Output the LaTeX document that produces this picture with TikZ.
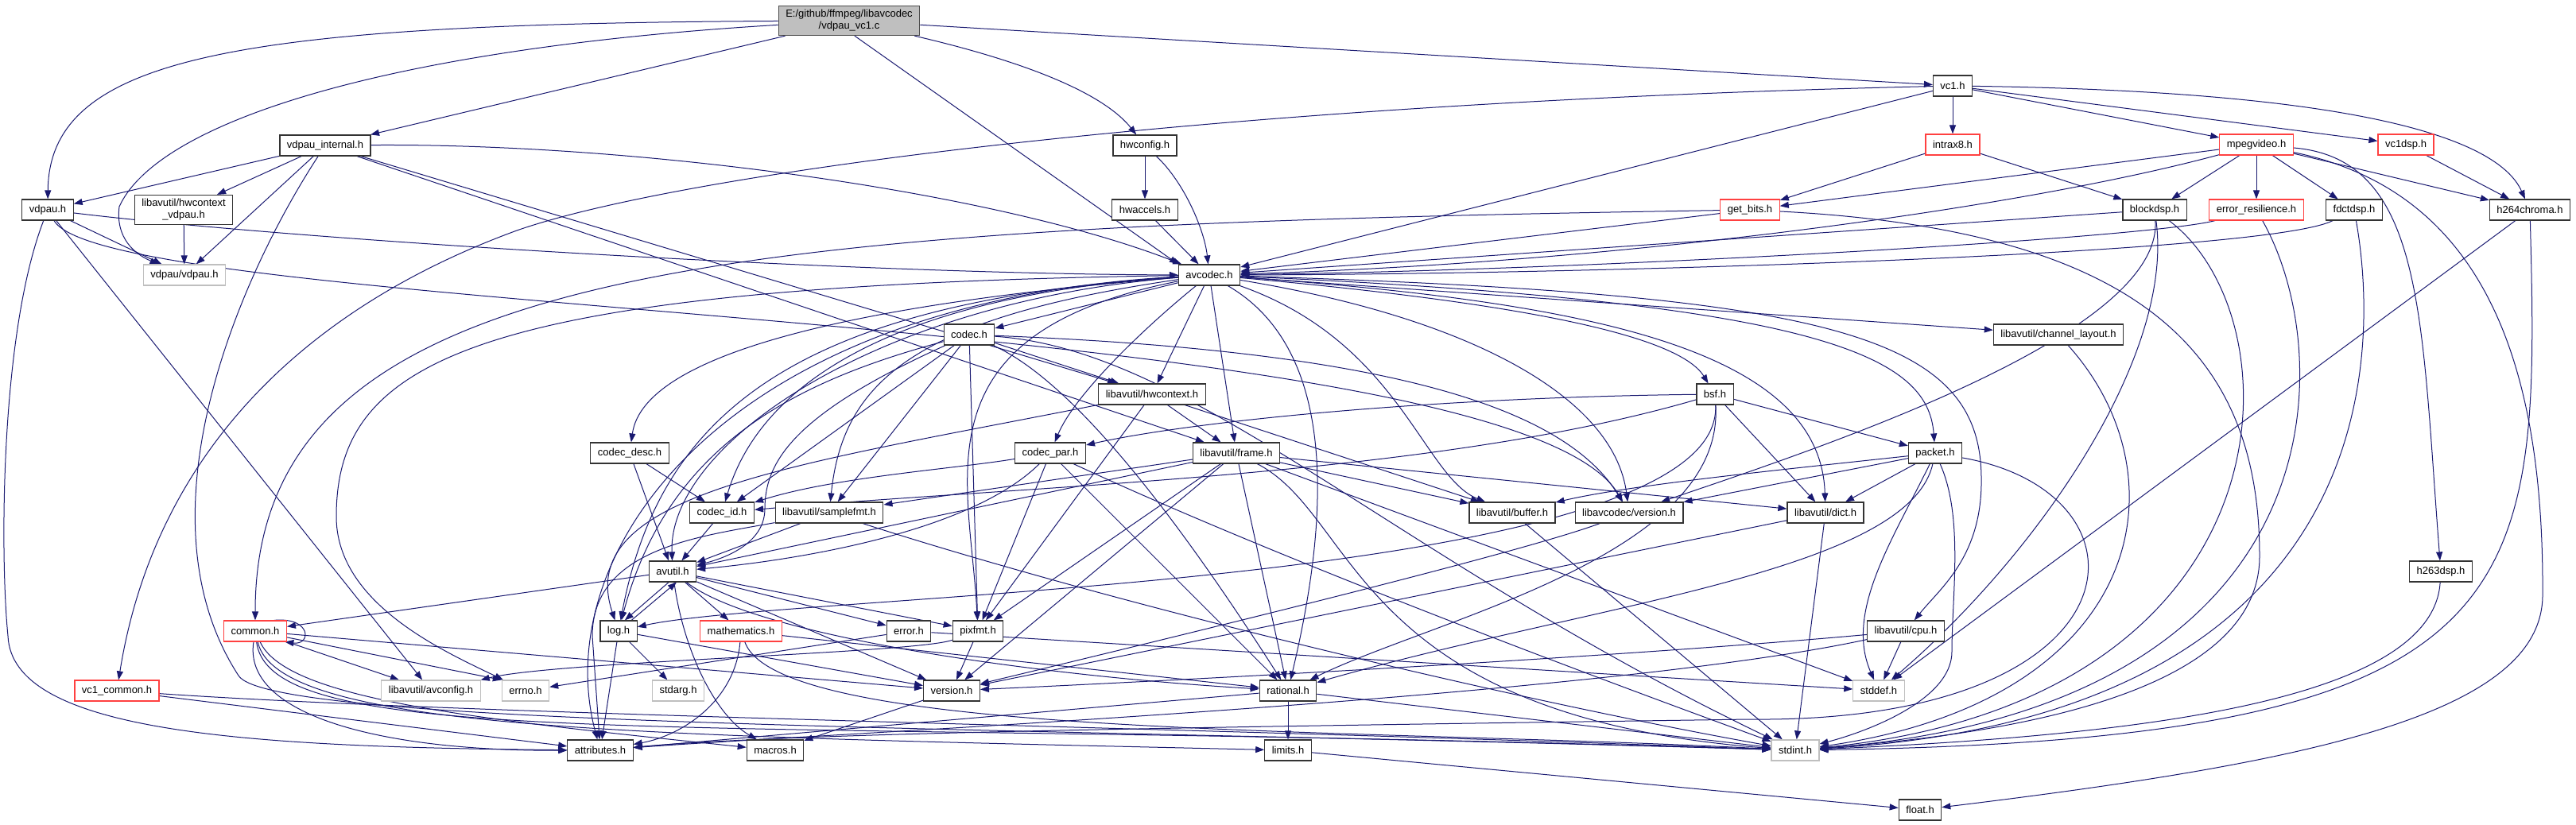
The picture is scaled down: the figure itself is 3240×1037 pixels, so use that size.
\documentclass[tikz,border=0pt]{standalone}
\usepackage{fontspec}
\setmainfont{Liberation Sans}
\usetikzlibrary{arrows.meta,backgrounds}
\definecolor{IncBlue}{RGB}{25,25,112}
\definecolor{TruncRed}{RGB}{255,64,64}
\definecolor{SysGray}{RGB}{191,191,191}
\definecolor{RootGray}{RGB}{191,191,191}
\tikzset{
  hdr/.style={draw=black!80,fill=white,line width=1.2pt,minimum height=26pt,inner xsep=9pt,inner ysep=3pt,font=\fontsize{13}{15}\selectfont},
  trunc/.style={hdr,draw=TruncRed},
  sys/.style={hdr,draw=SysGray},
  root/.style={hdr,fill=RootGray,draw=black!70,align=center,inner ysep=5pt},
  inc/.style={draw=IncBlue,line width=1pt,-{Triangle[length=11pt,width=8pt]}},
}

\begin{document}
\begin{tikzpicture}[x=1pt,y=-1pt]
\useasboundingbox (0,0) rectangle (3240,1037);
\node[root] (main) at (1068,26) {E:/github/ffmpeg/libavcodec\\/vdpau\_vc1.c};
\node[hdr] (vdpauint) at (409,183) {vdpau\_internal.h};
\node[hdr] (hwconfig) at (1440,183) {hwconfig.h};
\node[hdr] (vcone) at (2456,108) {vc1.h};
\node[trunc] (intrax) at (2456,182) {intrax8.h};
\node[trunc] (mpegvideo) at (2838,182) {mpegvideo.h};
\node[trunc] (vcdsp) at (3026,182) {vc1dsp.h};
\node[hdr] (vdpauh) at (60,264) {vdpau.h};
\node[hdr,align=center,inner ysep=5pt] (hwvdpau) at (231,264) {libavutil/hwcontext\\\_vdpau.h};
\node[hdr] (hwaccels) at (1440,264) {hwaccels.h};
\node[trunc] (getbits) at (2201,264) {get\_bits.h};
\node[hdr] (blockdsp) at (2710,264) {blockdsp.h};
\node[trunc] (errres) at (2838,264) {error\_resilience.h};
\node[hdr] (fdctdsp) at (2961,264) {fdctdsp.h};
\node[hdr] (hchroma) at (3182,264) {h264chroma.h};
\node[sys] (vdpauvdpau) at (232,346) {vdpau/vdpau.h};
\node[hdr] (avcodec) at (1521,346) {avcodec.h};
\node[hdr] (codec) at (1219,421) {codec.h};
\node[hdr] (chlayout) at (2589,421) {libavutil/channel\_layout.h};
\node[hdr] (hwcontext) at (1449,496) {libavutil/hwcontext.h};
\node[hdr] (bsf) at (2157,496) {bsf.h};
\node[hdr] (codecdesc) at (792,570) {codec\_desc.h};
\node[hdr] (codecpar) at (1321,570) {codec\_par.h};
\node[hdr] (frame) at (1555,570) {libavutil/frame.h};
\node[hdr] (packet) at (2434,570) {packet.h};
\node[hdr] (codecid) at (908,645) {codec\_id.h};
\node[hdr] (samplefmt) at (1043,645) {libavutil/samplefmt.h};
\node[hdr] (buffer) at (1902,645) {libavutil/buffer.h};
\node[hdr] (lcversion) at (2049,645) {libavcodec/version.h};
\node[hdr] (dict) at (2296,645) {libavutil/dict.h};
\node[hdr] (avutil) at (846,719) {avutil.h};
\node[hdr] (hdsp) at (3070,719) {h263dsp.h};
\node[trunc] (common) at (321,794) {common.h};
\node[hdr] (logh) at (778,794) {log.h};
\node[trunc] (mathh) at (932,794) {mathematics.h};
\node[hdr] (errorh) at (1143,794) {error.h};
\node[hdr] (pixfmt) at (1230,794) {pixfmt.h};
\node[hdr] (cpu) at (2397,794) {libavutil/cpu.h};
\node[trunc] (vcommon) at (147,869) {vc1\_common.h};
\node[sys] (avconfig) at (542,869) {libavutil/avconfig.h};
\node[sys] (errno) at (661,869) {errno.h};
\node[sys] (stdarg) at (853,869) {stdarg.h};
\node[hdr] (version) at (1197,869) {version.h};
\node[hdr] (rational) at (1620,869) {rational.h};
\node[sys] (stddef) at (2363,869) {stddef.h};
\node[hdr] (attributes) at (755,944) {attributes.h};
\node[hdr] (macros) at (975,944) {macros.h};
\node[hdr] (limits) at (1620,944) {limits.h};
\node[sys] (stdint) at (2258,944) {stdint.h};
\node[hdr] (floath) at (2415,1019) {float.h};

\begin{scope}[on background layer]
% source file
\draw[inc] (main) .. controls (300,30) and (62,70) .. (vdpauh);
\draw[inc] (main) .. controls (500,60) and (200,150) .. (150,260) .. controls (145,300) and (170,320) .. (vdpauvdpau);
\draw[inc] (main) -- (vdpauint);
\draw[inc] (main.290) -- (avcodec.north west);
\draw[inc] (main) .. controls (1300,80) and (1390,120) .. (hwconfig);
\draw[inc] (main) -- (vcone);
% vdpau headers
\draw[inc] (vdpauint) -- (vdpauh);
\draw[inc] (vdpauint) -- (hwvdpau);
\draw[inc] (vdpauint) -- (vdpauvdpau);
\draw[inc] (vdpauint) -- (hwcontext);
\draw[inc] (vdpauint) -- (frame);
\draw[inc] (vdpauint) .. controls (800,180) and (1250,240) .. (avcodec);
\draw[inc] (vdpauint) .. controls (300,350) and (170,650) .. (300,850) .. controls (340,915) and (1300,915) .. (stdint);
\draw[inc] (vdpauh) -- (vdpauvdpau);
\draw[inc] (vdpauh) .. controls (400,305) and (1100,345) .. (avcodec);
\draw[inc] (vdpauh) .. controls (140,400) and (1900,390) .. (lcversion);
\draw[inc] (vdpauh) -- (avconfig);
\draw[inc] (vdpauh) .. controls (0,420) and (0,700) .. (10,800) .. controls (15,920) and (300,940) .. (attributes);
\draw[inc] (hwvdpau) -- (vdpauvdpau);
% hwconfig.h
\draw[inc] (hwconfig) -- (hwaccels);
\draw[inc] (hwconfig) .. controls (1490,230) and (1515,290) .. (avcodec);
\draw[inc] (hwaccels) -- (avcodec);
% vc1.h
\draw[inc] (vcone) -- (avcodec);
\draw[inc] (vcone) .. controls (1500,130) and (850,220) .. (650,290) .. controls (350,400) and (190,600) .. (vcommon);
\draw[inc] (vcone) -- (intrax);
\draw[inc] (vcone) -- (mpegvideo);
\draw[inc] (vcone) -- (vcdsp);
\draw[inc] (vcone) .. controls (2950,115) and (3140,170) .. (hchroma);
\draw[inc] (intrax) -- (getbits);
\draw[inc] (intrax) -- (blockdsp);
\draw[inc] (mpegvideo) -- (getbits);
\draw[inc] (mpegvideo) .. controls (2550,260) and (2050,330) .. (avcodec);
\draw[inc] (mpegvideo) -- (blockdsp);
\draw[inc] (mpegvideo) -- (errres);
\draw[inc] (mpegvideo) -- (fdctdsp);
\draw[inc] (mpegvideo) -- (hchroma);
\draw[inc] (mpegvideo) .. controls (3050,200) and (3045,400) .. (hdsp);
\draw[inc] (mpegvideo) .. controls (3120,240) and (3200,450) .. (3198,750) .. controls (3196,900) and (2900,960) .. (floath);
\draw[inc] (vcdsp) -- (hchroma);
\draw[inc] (getbits) -- (avcodec);
\draw[inc] (getbits) .. controls (900,285) and (321,330) .. (common);
\draw[inc] (getbits) .. controls (2700,290) and (2842,450) .. (2842,700) .. controls (2842,880) and (2500,925) .. (stdint);
\draw[inc] (blockdsp) -- (avcodec);
\draw[inc] (blockdsp) .. controls (2720,420) and (2300,560) .. (lcversion);
\draw[inc] (blockdsp) .. controls (2735,450) and (2560,700) .. (stddef);
\draw[inc] (blockdsp) .. controls (2892,400) and (2892,880) .. (stdint);
\draw[inc] (errres) .. controls (2700,300) and (2000,340) .. (avcodec);
\draw[inc] (errres) .. controls (2943,450) and (2943,890) .. (stdint);
\draw[inc] (fdctdsp) .. controls (2850,320) and (2000,345) .. (avcodec);
\draw[inc] (fdctdsp) .. controls (2994,450) and (2994,900) .. (stdint);
\draw[inc] (hchroma) -- (stddef);
\draw[inc] (hchroma) .. controls (3195,750) and (3190,930) .. (stdint);
\draw[inc] (hdsp) .. controls (3060,880) and (2700,925) .. (stdint);
% avcodec.h
\draw[inc] (avcodec) .. controls (600,360) and (423,450) .. (423,650) .. controls (423,760) and (560,820) .. (errno);
\draw[inc] (avcodec) .. controls (1150,400) and (1060,480) .. (samplefmt);
\draw[inc] (avcodec) .. controls (900,380) and (690,700) .. (attributes);
\draw[inc] (avcodec) .. controls (1100,380) and (840,560) .. (avutil);
\draw[inc] (avcodec) .. controls (1760,430) and (1790,600) .. (buffer);
\draw[inc] (avcodec) .. controls (2300,370) and (2490,420) .. (2492,600) .. controls (2494,700) and (2440,740) .. (cpu);
\draw[inc] (avcodec) -- (chlayout);
\draw[inc] (avcodec) .. controls (2000,380) and (2290,440) .. (dict);
\draw[inc] (avcodec) -- (frame);
\draw[inc] (avcodec) -- (hwcontext);
\draw[inc] (avcodec) .. controls (1000,380) and (830,520) .. (logh);
\draw[inc] (avcodec) .. controls (1150,420) and (1220,600) .. (pixfmt);
\draw[inc] (avcodec) .. controls (1700,450) and (1660,700) .. (rational);
\draw[inc] (avcodec) .. controls (1900,380) and (2110,420) .. (bsf);
\draw[inc] (avcodec) -- (codec);
\draw[inc] (avcodec) .. controls (1100,380) and (810,440) .. (codecdesc);
\draw[inc] (avcodec) .. controls (1430,420) and (1350,500) .. (codecpar);
\draw[inc] (avcodec) .. controls (1150,370) and (960,470) .. (codecid);
\draw[inc] (avcodec) .. controls (2300,380) and (2425,450) .. (packet);
\draw[inc] (avcodec) .. controls (1850,400) and (2030,500) .. (lcversion);
% codec.h and friends
\draw[inc] (codec) .. controls (1500,440) and (1750,700) .. (stdint);
\draw[inc] (codec) .. controls (1000,520) and (962,580) .. (962,640) .. controls (962,680) and (920,700) .. (avutil);
\draw[inc] (codec) -- (hwcontext);
\draw[inc] (codec) .. controls (1000,480) and (840,560) .. (logh);
\draw[inc] (codec) -- (pixfmt);
\draw[inc] (codec) .. controls (1350,480) and (1480,650) .. (rational);
\draw[inc] (codec) -- (samplefmt);
\draw[inc] (codec) -- (codecid);
\draw[inc] (codec) .. controls (1700,440) and (1960,500) .. (lcversion);
\draw[inc] (codecdesc) -- (avutil);
\draw[inc] (codecdesc) -- (codecid);
\draw[inc] (codecid) -- (avutil);
\draw[inc] (codecpar) .. controls (1200,590) and (1050,600) .. (codecid);
\draw[inc] (codecpar) .. controls (1220,670) and (1000,705) .. (avutil);
\draw[inc] (codecpar) -- (pixfmt);
\draw[inc] (codecpar) -- (rational);
\draw[inc] (codecpar) .. controls (1600,700) and (2000,850) .. (stdint);
\draw[inc] (bsf) -- (dict);
\draw[inc] (bsf) -- (packet);
\draw[inc] (bsf) .. controls (2170,740) and (1000,745) .. (logh);
\draw[inc] (bsf) .. controls (2170,700) and (1800,780) .. (rational);
\draw[inc] (bsf) .. controls (1800,500) and (1500,530) .. (codecpar);
\draw[inc] (bsf) .. controls (1800,600) and (1300,610) .. (codecid);
\draw[inc] (packet) .. controls (2250,590) and (2050,610) .. (buffer);
\draw[inc] (packet) -- (lcversion);
\draw[inc] (packet) -- (dict);
\draw[inc] (packet) .. controls (2400,720) and (2000,760) .. (rational);
\draw[inc] (packet) .. controls (2380,680) and (2320,770) .. (stddef);
\draw[inc] (packet) .. controls (2470,650) and (2455,750) .. (2455,820) .. controls (2455,880) and (2350,920) .. (stdint);
\draw[inc] (packet) .. controls (2720,620) and (2700,910) .. (2200,905) .. controls (1500,915) and (1000,922) .. (attributes);
\draw[inc] (lcversion) .. controls (1900,700) and (1400,820) .. (version);
% libavutil
\draw[inc] (hwcontext) -- (buffer);
\draw[inc] (hwcontext) -- (frame);
\draw[inc] (hwcontext) .. controls (1000,585) and (720,620) .. (logh);
\draw[inc] (hwcontext) -- (pixfmt);
\draw[inc] (frame) -- (buffer);
\draw[inc] (frame) -- (dict);
\draw[inc] (frame) -- (samplefmt);
\draw[inc] (frame) -- (avutil);
\draw[inc] (frame) -- (pixfmt);
\draw[inc] (frame) -- (version);
\draw[inc] (frame) -- (rational);
\draw[inc] (frame) -- (stddef);
\draw[inc] (frame) .. controls (1710,650) and (1700,900) .. (stdint);
\draw[inc] (samplefmt) -- (avutil);
\draw[inc] (samplefmt) .. controls (880,675) and (745,690) .. (745,800) -- (attributes);
\draw[inc] (samplefmt) .. controls (1400,760) and (1900,880) .. (stdint);
\draw[inc] (buffer) -- (stdint);
\draw[inc] (dict) -- (stdint);
\draw[inc] (dict) -- (version);
\draw[inc] (chlayout) .. controls (2750,600) and (2700,880) .. (stdint);
\draw[inc] (cpu) -- (stddef);
\draw[inc] (cpu) .. controls (2000,830) and (1400,860) .. (version);
\draw[inc] (cpu) .. controls (2000,880) and (1000,925) .. (attributes);
\draw[inc] (avutil) -- (common);
\draw[inc] (avutil.250) -- (logh.60);
\draw[inc] (logh.40) -- (avutil.290);
\draw[inc] (avutil) -- (mathh);
\draw[inc] (avutil) -- (errorh);
\draw[inc] (avutil) -- (pixfmt);
\draw[inc] (avutil) -- (version);
\draw[inc] (avutil) .. controls (950,800) and (1300,850) .. (rational);
\draw[inc] (avutil) .. controls (860,820) and (900,900) .. (macros);
\draw[inc] (common.30) .. controls (392,776) and (392,812) .. (common.-20);
\draw[inc] (common) -- (avconfig);
\draw[inc] (common) -- (errno.north west);
\draw[inc] (common) -- (version);
\draw[inc] (common) .. controls (305,900) and (480,945) .. (attributes);
\draw[inc] (common) .. controls (360,880) and (600,905) .. (macros);
\draw[inc] (common) .. controls (350,920) and (800,925) .. (limits);
\draw[inc] (common) .. controls (340,950) and (900,900) .. (stdint);
\draw[inc] (mathh) .. controls (925,880) and (860,925) .. (attributes);
\draw[inc] (mathh) -- (rational);
\draw[inc] (mathh) .. controls (980,930) and (1700,915) .. (stdint);
\draw[inc] (errorh) -- (errno);
\draw[inc] (errorh) -- (stddef);
\draw[inc] (pixfmt) -- (version);
\draw[inc] (pixfmt) .. controls (1150,822) and (700,832) .. (avconfig.north east);
\draw[inc] (logh) -- (stdarg);
\draw[inc] (logh) -- (attributes);
\draw[inc] (logh) -- (version);
\draw[inc] (version) -- (macros);
\draw[inc] (rational) -- (limits);
\draw[inc] (rational) -- (attributes);
\draw[inc] (rational) -- (stdint);
\draw[inc] (limits) -- (floath);
\draw[inc] (vcommon) -- (attributes);
\draw[inc] (vcommon) .. controls (600,900) and (1500,915) .. (stdint);
\end{scope}
\end{tikzpicture}
\end{document}
